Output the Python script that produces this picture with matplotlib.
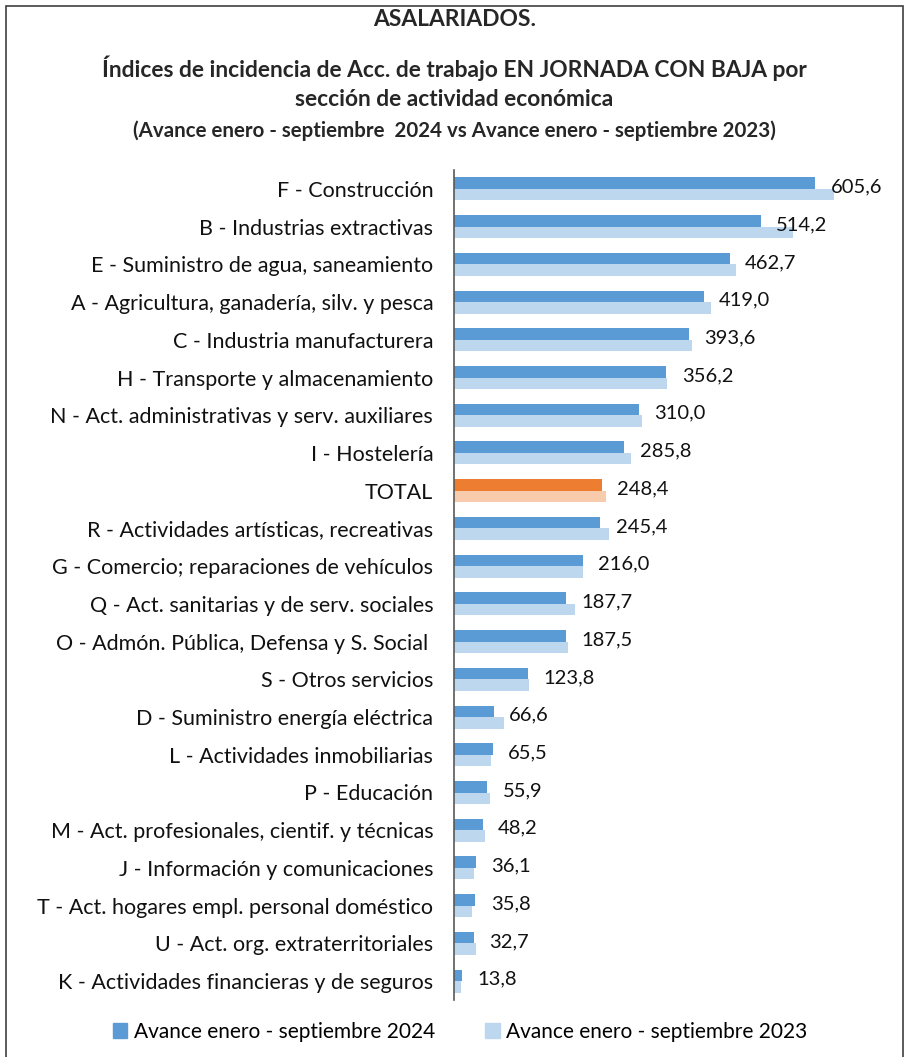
import matplotlib.pyplot as plt
from matplotlib.patches import Patch, Rectangle

plt.rcParams['font.family'] = ['Lato', 'DejaVu Sans']

categorias = ['F - Construcción', 'B - Industrias extractivas',
              'E - Suministro de agua, saneamiento',
              'A - Agricultura, ganadería, silv. y pesca',
              'C - Industria manufacturera', 'H - Transporte y almacenamiento',
              'N - Act. administrativas y serv. auxiliares', 'I - Hostelería',
              'TOTAL', 'R - Actividades artísticas, recreativas',
              'G - Comercio; reparaciones de vehículos',
              'Q - Act. sanitarias y de serv. sociales',
              'O - Admón. Pública, Defensa y S. Social ', 'S - Otros servicios',
              'D - Suministro energía eléctrica', 'L - Actividades inmobiliarias',
              'P - Educación', 'M - Act. profesionales, cientif. y técnicas',
              'J - Información y comunicaciones',
              'T - Act. hogares empl. personal doméstico',
              'U - Act. org. extraterritoriales',
              'K - Actividades financieras y de seguros']
avance_2024 = [605.6, 514.2, 462.7, 419.0, 393.6, 356.2, 310.0, 285.8, 248.4,
               245.4, 216.0, 187.7, 187.5, 123.8, 66.6, 65.5, 55.9, 48.2, 36.1,
               35.8, 32.7, 13.8]
avance_2023 = [637.5, 568.2, 473.6, 431.0, 399.8, 356.8, 315.4, 296.9, 255.0,
               260.0, 215.5, 202.4, 191.8, 125.8, 83.3, 62.6, 60.4, 52.0, 33.5,
               30.8, 36.4, 12.3]

azul, azul_claro = '#5B9BD5', '#BDD7EE'
naranja, naranja_claro = '#ED7D31', '#F8CBAD'

fig = plt.figure(figsize=(9.09, 10.57), dpi=100)
ax = fig.add_axes([454 / 909, 1 - 1000 / 1057, 436 / 909, 830 / 1057])

y = list(range(len(categorias)))
alto = 0.305
c24 = [naranja if c == 'TOTAL' else azul for c in categorias]
c23 = [naranja_claro if c == 'TOTAL' else azul_claro for c in categorias]
ax.barh([i + alto / 2 for i in y], avance_2023, height=alto, color=c23)
ax.barh([i - alto / 2 for i in y], avance_2024, height=alto, color=c24)

# etiquetas con el valor de 2024
for i, v in enumerate(avance_2024):
    ax.annotate(f'{v:.1f}'.replace('.', ','), (v, i - 0.05), xytext=(11, 0),
                textcoords='offset points', va='center', ha='left',
                fontsize=14.5, color='#111111')

ax.set_xlim(0, 731)
ax.set_ylim(len(categorias) - 0.5, -0.5)
ax.set_yticks(y)
ax.set_yticklabels(categorias, fontsize=15.5, color='#111111')
ax.tick_params(axis='y', length=0, pad=15)
ax.set_xticks([])
for s in ['top', 'right', 'bottom']:
    ax.spines[s].set_visible(False)
ax.spines['left'].set_color('#595959')
ax.spines['left'].set_linewidth(1.2)

fig.text(0.5, 1 - 20 / 1057, 'ASALARIADOS.', ha='center', va='center',
         fontsize=16.4, fontweight='bold', color='#262626')
fig.text(0.5, 1 - 68 / 1057,
         'Índices de incidencia de Acc. de trabajo EN JORNADA CON BAJA por',
         ha='center', va='center', fontsize=16.4, fontweight='bold', color='#262626')
fig.text(0.5, 1 - 100 / 1057, 'sección de actividad económica', ha='center',
         va='center', fontsize=16.4, fontweight='bold', color='#262626')
fig.text(0.5, 1 - 131 / 1057,
         '(Avance enero - septiembre  2024 vs Avance enero - septiembre 2023)',
         ha='center', va='center', fontsize=14.8, fontweight='bold', color='#262626')

fig.legend(handles=[Patch(color=azul), Patch(color=azul_claro)],
           labels=['Avance enero - septiembre 2024', 'Avance enero - septiembre 2023'],
           loc='center', bbox_to_anchor=(460 / 909, 1 - 1032 / 1057), ncol=2,
           frameon=False, fontsize=15, handlelength=0.7, handleheight=0.7,
           handletextpad=0.3, columnspacing=2.4)

fig.patches.append(Rectangle((6 / 909, -0.05), 897 / 909, 1.05 - 6 / 1057,
                             transform=fig.transFigure, fill=False,
                             edgecolor='#404040', linewidth=1.2))

fig.savefig('out.png', dpi=100)
